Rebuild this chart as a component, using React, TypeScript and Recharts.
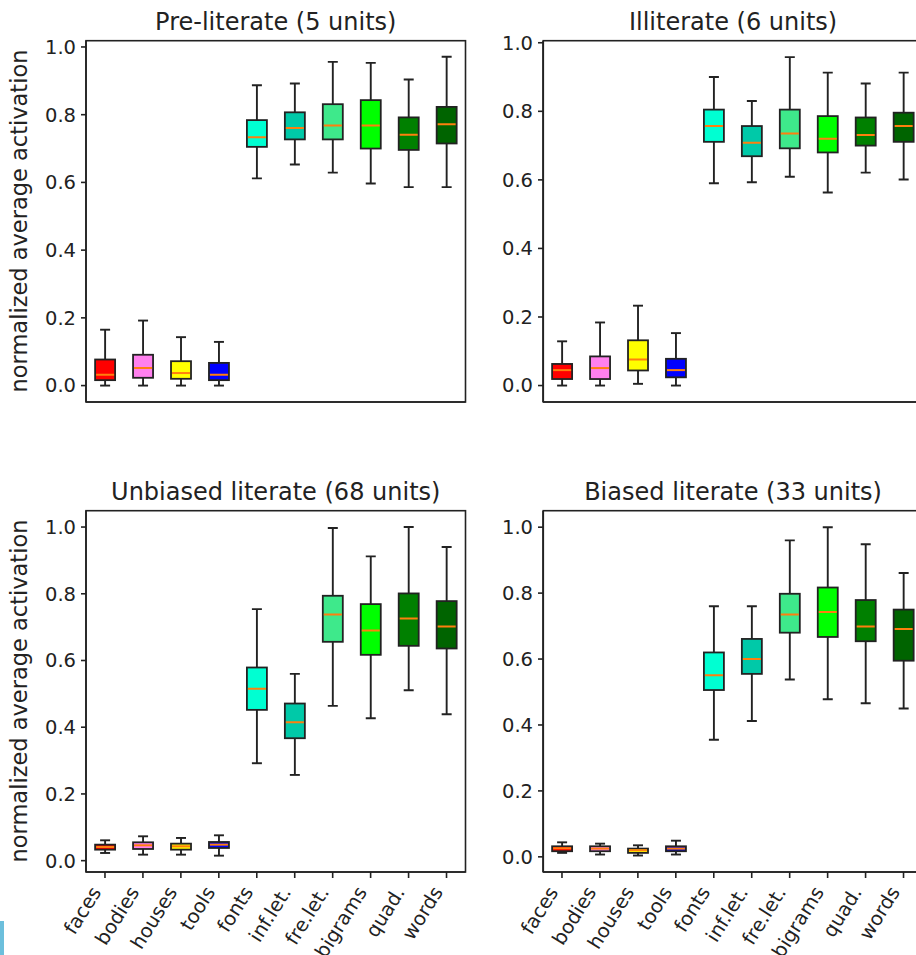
import React from "react";
import { Bar, ComposedChart, XAxis, YAxis } from "recharts";

const categories = ["faces", "bodies", "houses", "tools", "fonts", "inf.let.", "fre.let.", "bigrams", "quad.", "words"];
const boxColors = ["#ff0000", "#ff80ee", "#ffff00", "#0000ff", "#00ffd2", "#00c9a8", "#3ee98b", "#00ff00", "#008000", "#006400"];
const yTicks = [0, 0.2, 0.4, 0.6, 0.8, 1.0];

// each row: [whisker low, q1, median, q3, whisker high]
const preLiterate = [
  [0.0, 0.016, 0.032, 0.077, 0.165],
  [0.0, 0.023, 0.052, 0.091, 0.192],
  [0.0, 0.02, 0.037, 0.072, 0.143],
  [0.0, 0.016, 0.032, 0.067, 0.129],
  [0.612, 0.705, 0.733, 0.784, 0.887],
  [0.653, 0.727, 0.761, 0.807, 0.892],
  [0.629, 0.727, 0.768, 0.831, 0.956],
  [0.597, 0.7, 0.768, 0.843, 0.953],
  [0.586, 0.696, 0.741, 0.792, 0.904],
  [0.586, 0.715, 0.772, 0.823, 0.971],
];
const illiterate = [
  [0.0, 0.019, 0.045, 0.063, 0.129],
  [0.0, 0.019, 0.051, 0.085, 0.184],
  [0.005, 0.044, 0.076, 0.132, 0.233],
  [0.0, 0.024, 0.045, 0.078, 0.153],
  [0.59, 0.711, 0.757, 0.805, 0.9],
  [0.593, 0.669, 0.708, 0.757, 0.83],
  [0.609, 0.692, 0.735, 0.805, 0.958],
  [0.563, 0.68, 0.72, 0.786, 0.913],
  [0.621, 0.7, 0.731, 0.782, 0.881],
  [0.601, 0.711, 0.757, 0.796, 0.913],
];
const unbiasedLiterate = [
  [0.023, 0.033, 0.041, 0.048, 0.061],
  [0.018, 0.035, 0.046, 0.055, 0.073],
  [0.018, 0.033, 0.043, 0.051, 0.068],
  [0.015, 0.038, 0.048, 0.056, 0.076],
  [0.292, 0.452, 0.515, 0.579, 0.754],
  [0.257, 0.367, 0.415, 0.471, 0.56],
  [0.464, 0.656, 0.738, 0.794, 0.997],
  [0.427, 0.617, 0.69, 0.769, 0.912],
  [0.511, 0.644, 0.726, 0.801, 1.0],
  [0.439, 0.636, 0.702, 0.778, 0.94],
];
const biasedLiterate = [
  [0.012, 0.017, 0.026, 0.032, 0.044],
  [0.007, 0.017, 0.025, 0.032, 0.04],
  [0.004, 0.012, 0.02, 0.025, 0.035],
  [0.007, 0.017, 0.025, 0.032, 0.049],
  [0.355, 0.506, 0.551, 0.62, 0.76],
  [0.412, 0.555, 0.6, 0.661, 0.76],
  [0.538, 0.68, 0.735, 0.798, 0.96],
  [0.478, 0.667, 0.743, 0.817, 1.0],
  [0.466, 0.654, 0.699, 0.779, 0.948],
  [0.45, 0.595, 0.691, 0.75, 0.861],
];

const toRows = (stats: number[][]) =>
  categories.map((name, i) => {
    const [low, q1, med, q3, high] = stats[i];
    return { name, low, q1, med, q3, high };
  });

const ink = "#222";
const PLOT_LEFT = 86;
const PLOT_TOP = 40.7;
const PLOT_W = 379.5;
const PLOT_H = 361.3;
const RIGHT_SHIFT = 457.3;
const BOTTOM_SHIFT = 470;

function BoxShape(props: any) {
  const { x, y, width, height, payload, index } = props;
  const { low, q1, med, q3, high } = payload;
  const py = (v: number) => y + (height * (high - v)) / (high - low);
  const cx = x + width / 2;
  const cap = width / 4;
  const line = { stroke: ink, strokeWidth: 1.9 };
  return (
    <g>
      <line x1={cx} x2={cx} y1={py(high)} y2={py(q3)} {...line} />
      <line x1={cx} x2={cx} y1={py(q1)} y2={py(low)} {...line} />
      <line x1={cx - cap} x2={cx + cap} y1={py(high)} y2={py(high)} {...line} />
      <line x1={cx - cap} x2={cx + cap} y1={py(low)} y2={py(low)} {...line} />
      <rect x={x} y={py(q3)} width={width} height={py(q1) - py(q3)} fill={boxColors[index]} stroke={ink} strokeWidth={1.8} />
      <line x1={x + 1} x2={x + width - 1} y1={py(med)} y2={py(med)} stroke="#ff7f0e" strokeWidth={2} />
    </g>
  );
}

function SlantTick(props: any) {
  const { x, y, payload } = props;
  return (
    <g transform={`translate(${x - 3},${y + 12})`}>
      <text transform="rotate(-58)" textAnchor="end" fontSize={19.5} fill={ink}>
        {payload.value}
      </text>
    </g>
  );
}

function Panel({ stats, domain, labels, height }: { stats: number[][]; domain: [number, number]; labels: boolean; height: number }) {
  const width = 470;
  const rows = toRows(stats);
  return (
    <ComposedChart
      width={width}
      height={height}
      data={rows}
      barCategoryGap="24%"
      margin={{ top: PLOT_TOP, left: 0, right: width - PLOT_LEFT - PLOT_W, bottom: 0 }}
    >
      <XAxis
        dataKey="name"
        height={height - PLOT_TOP - PLOT_H}
        interval={0}
        tickSize={6}
        stroke={ink}
        axisLine={{ stroke: ink, strokeWidth: 1.6 }}
        tickLine={{ stroke: ink, strokeWidth: 1.6 }}
        tick={labels ? <SlantTick /> : false}
      />
      <YAxis
        type="number"
        domain={domain}
        allowDataOverflow
        ticks={yTicks}
        width={PLOT_LEFT}
        tickSize={5}
        tickMargin={5}
        tickFormatter={(v: number) => v.toFixed(1)}
        tick={{ fontSize: 19.5, fill: ink }}
        axisLine={{ stroke: ink, strokeWidth: 1.6 }}
        tickLine={{ stroke: ink, strokeWidth: 1.6 }}
      />
      <Bar dataKey={(d: any) => [d.low, d.high]} isAnimationActive={false} shape={(p: any) => <BoxShape {...p} />} />
    </ComposedChart>
  );
}

const titles = ["Pre-literate (5 units)", "Illiterate (6 units)", "Unbiased literate (68 units)", "Biased literate (33 units)"];
const yLabel = "normalized average activation";
const panelOffsets = [
  [0, 0],
  [RIGHT_SHIFT, 0],
  [0, BOTTOM_SHIFT],
  [RIGHT_SHIFT, BOTTOM_SHIFT],
];

export default function App() {
  const centerX = PLOT_LEFT + PLOT_W / 2;
  return (
    <div
      style={{
        position: "fixed",
        left: 0,
        top: 0,
        width: 916,
        height: 955,
        overflow: "hidden",
        background: "#fff",
        fontFamily: "'DejaVu Sans', sans-serif",
      }}
    >
      <div style={{ position: "absolute", left: 0, top: 0 }}>
        <Panel stats={preLiterate} domain={[-0.0485, 1.0185]} labels={false} height={470} />
      </div>
      <div style={{ position: "absolute", left: RIGHT_SHIFT, top: 0 }}>
        <Panel stats={illiterate} domain={[-0.048, 1.006]} labels={false} height={470} />
      </div>
      <div style={{ position: "absolute", left: 0, top: BOTTOM_SHIFT }}>
        <Panel stats={unbiasedLiterate} domain={[-0.034, 1.049]} labels height={485} />
      </div>
      <div style={{ position: "absolute", left: RIGHT_SHIFT, top: BOTTOM_SHIFT }}>
        <Panel stats={biasedLiterate} domain={[-0.046, 1.05]} labels height={485} />
      </div>
      <svg width={916} height={955} style={{ position: "absolute", left: 0, top: 0, pointerEvents: "none" }}>
        {panelOffsets.map(([dx, dy], i) => (
          <g key={i}>
            <rect x={PLOT_LEFT + dx} y={PLOT_TOP + dy} width={PLOT_W} height={PLOT_H} fill="none" stroke={ink} strokeWidth={1.6} />
            <text x={centerX + dx} y={29.5 + dy} textAnchor="middle" fontSize={24} fill={ink}>
              {titles[i]}
            </text>
          </g>
        ))}
        <text transform="translate(19,221) rotate(-90)" textAnchor="middle" dominantBaseline="central" fontSize={22.5} fill={ink}>{yLabel}</text>
        <text transform="translate(19,691) rotate(-90)" textAnchor="middle" dominantBaseline="central" fontSize={22.5} fill={ink}>{yLabel}</text>
      </svg>
      <div style={{ position: "absolute", left: 0, top: 921, width: 4, height: 34, background: "#6cbfdc" }} />
    </div>
  );
}
